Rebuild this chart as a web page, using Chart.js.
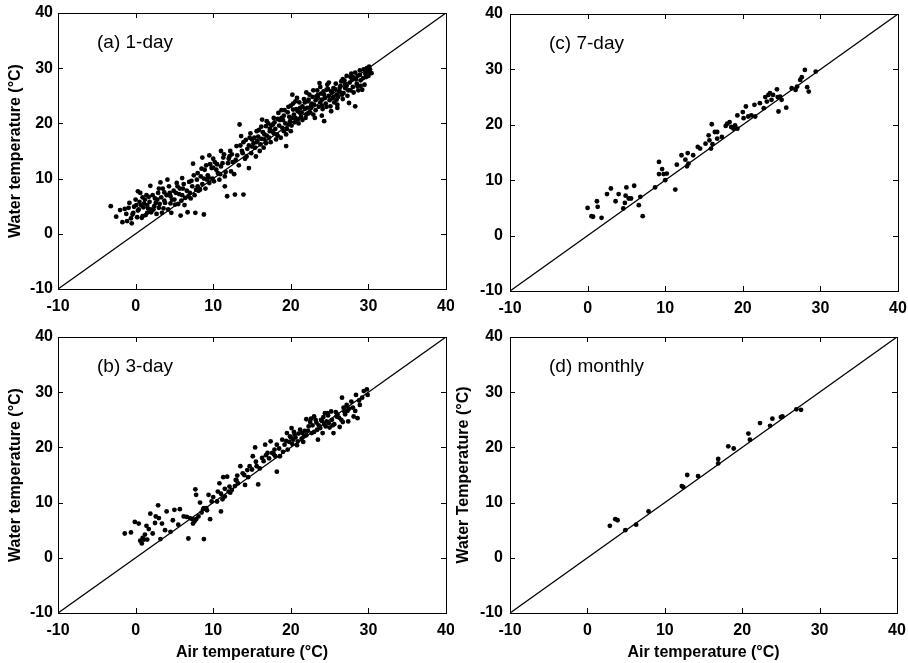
<!DOCTYPE html>
<html lang="en">
<head>
  <meta charset="UTF-8">
  <title>Water vs air temperature</title>
  <script src="https://cdn.jsdelivr.net/npm/chart.js"></script>
  <style>
    body { margin: 0; background: #fff; }
    canvas { position: absolute; }
  </style>
</head>
<body>
  <canvas id="chartA" width="454" height="320" style="left:0;top:0"></canvas>
  <canvas id="chartC" width="454" height="320" style="left:454px;top:0"></canvas>
  <canvas id="chartB" width="454" height="343" style="left:0;top:320px"></canvas>
  <canvas id="chartD" width="454" height="343" style="left:454px;top:320px"></canvas>

  <script>
    // axis range and tick labels (same on every panel)
    const axisMin = -10;
    const axisMax = 40;
    const tickValues = [-10, 0, 10, 20, 30, 40];
    const oneToOne = [[-10, -10], [40, 40]];

    // [air temperature, water temperature] pairs
    const oneDay = [
      [-3.2,5.0],[-2.5,3.1],[-2.0,4.3],[-1.7,2.1],[-1.1,2.3],[-0.5,1.9],[-0.9,4.7],[-0.3,3.8],[0.0,6.2],[0.3,7.7],
      [0.6,7.4],[0.9,3.2],[1.1,5.5],[1.5,3.8],[1.7,6.7],[1.9,8.7],[2.4,5.0],[2.8,6.2],[3.2,9.3],[3.4,3.8],
      [3.7,7.5],[4.1,9.8],[4.5,6.8],[4.6,3.8],[5.0,6.2],[5.4,8.6],[5.8,3.3],[6.0,10.1],[6.4,6.5],[6.7,3.9],
      [7.0,7.4],[7.4,12.7],[7.7,3.8],[8.0,11.0],[8.3,8.0],[8.6,13.8],[8.8,3.5],[9.2,9.8],[9.5,14.2],[9.8,11.9],
      [10.1,9.5],[10.6,11.0],[11.0,15.0],[11.2,12.8],[11.5,8.6],[11.8,6.8],[12.1,14.0],[12.3,11.3],[12.8,7.1],[13.0,15.9],
      [13.4,19.8],[13.6,17.7],[13.9,7.1],[14.3,14.0],[14.6,11.9],[15.0,17.1],[15.4,15.6],[15.6,18.6],[16.0,15.0],[16.3,20.7],
      [16.6,17.1],[16.8,19.5],[17.3,18.6],[17.7,19.8],[18.1,17.1],[18.4,21.9],[18.8,21.0],[19.1,18.6],[19.4,15.9],[19.7,19.8],
      [20.2,25.2],[20.3,22.5],[20.6,24.0],[20.9,20.7],[21.2,21.9],[21.5,23.1],[22.0,21.6],[22.3,24.3],[22.6,22.8],[23.1,21.0],
      [23.3,24.9],[23.7,27.3],[24.0,24.3],[24.3,20.4],[24.6,26.1],[25.1,23.1],[25.5,26.4],[25.9,24.3],[26.4,26.8],[26.8,25.5],
      [27.2,28.6],[27.5,23.7],[27.9,27.9],[28.3,23.1],[28.6,26.7],[28.9,28.8],[29.2,26.1],[29.7,29.4],[30.1,30.3],[30.4,29.1],
      [-1.4,4.5],[-1.2,3.6],[-0.8,5.6],[-0.6,2.8],[-0.2,4.9],[0.2,3.0],[0.4,4.4],[0.5,5.8],[0.8,2.9],[1.0,4.8],
      [1.2,6.2],[1.3,3.4],[1.6,4.6],[1.8,5.8],[2.0,3.9],[2.2,7.0],[2.3,4.4],[2.6,5.6],[2.9,7.4],[3.0,4.7],
      [3.3,6.6],[3.5,8.2],[3.8,5.6],[4.0,7.0],[4.2,4.4],[4.3,8.6],[4.7,6.2],[4.9,7.8],[5.1,5.3],[5.3,9.2],
      [5.6,7.2],[5.9,6.0],[6.1,8.2],[6.3,5.2],[6.6,7.8],[6.9,9.4],[7.1,6.4],[7.3,8.6],[7.6,7.0],[7.9,9.8],
      [8.1,7.8],[8.4,10.4],[8.6,9.0],[8.9,11.6],[9.0,8.2],[9.3,10.6],[9.6,12.6],[9.9,10.0],[10.2,13.0],[10.4,11.6],
      [10.8,9.8],[11.0,12.2],[11.3,13.8],[11.6,11.2],[11.9,12.8],[12.2,15.0],[12.5,13.0],[12.7,10.8],[13.1,14.2],[13.3,12.4],
      [13.7,15.0],[13.9,16.6],[14.1,13.6],[14.4,15.4],[14.7,17.4],[14.9,14.6],[15.2,16.4],[15.5,14.0],[15.8,17.6],[16.1,16.2],
      [16.4,18.4],[16.5,15.6],[16.9,17.8],[17.1,20.0],[17.4,16.6],[17.6,18.6],[17.9,20.2],[18.2,18.0],[18.5,19.6],[18.7,17.4],
      [19.0,20.6],[19.2,22.4],[19.5,19.0],[19.8,21.2],[20.0,23.2],[20.1,19.6],[20.4,21.6],[20.7,22.6],[21.0,20.0],[21.1,23.8],
      [21.4,22.0],[21.7,24.4],[21.9,21.0],[22.1,22.8],[22.4,25.2],[22.7,23.6],[22.9,21.6],[23.2,24.2],[23.4,26.0],[23.6,23.0],
      [23.9,25.4],[24.1,22.6],[24.4,24.6],[24.7,27.0],[24.9,25.0],[25.2,22.2],[25.4,24.6],[25.7,26.2],[26.0,23.4],[26.2,25.8],
      [26.5,27.6],[26.7,24.4],[27.0,26.4],[27.3,25.0],[27.6,27.4],[27.8,29.0],[28.1,25.6],[28.4,28.0],[28.7,26.0],[28.9,29.6],
      [29.3,28.2],[29.5,27.0],[29.8,30.0],[30.0,28.6],[30.2,29.8],
      [15.0,15.8],[15.7,16.8],[16.2,17.2],[16.8,16.4],[17.3,19.0],[17.8,18.2],[18.3,20.8],[18.9,19.2],[19.3,20.0],[19.6,22.0],
      [20.2,21.0],[20.5,20.2],[20.9,22.2],[21.3,21.2],[21.8,22.6],[22.2,24.0],[22.5,22.0],[22.8,24.8],[23.0,23.4],[23.5,24.6],
      [23.8,23.8],[24.2,25.8],[24.5,23.6],[24.8,26.2],[25.0,24.2],[25.3,25.6],[25.6,23.8],[25.9,25.2],[26.3,26.4],[26.6,25.2],
      [26.9,27.8],[27.2,26.8],[27.7,26.0],[28.0,28.4],[28.5,27.2],[29.0,27.8],[29.6,29.0],[11.5,10.4],[12.0,13.6],[10.0,12.0],
      [9.5,9.2],[8.8,10.0],[8.0,8.6],[7.5,10.6],[6.8,6.8],[6.0,7.0],[5.5,5.4],[4.5,5.5],[3.7,6.0],[3.1,5.4],
      [2.5,6.4],[1.5,5.2],[0.9,6.6],[0.1,5.2],[-0.4,3.5],
      [12.4,14.4],[12.9,13.4],[13.5,16.0],[13.8,14.6],[14.2,17.0],[14.6,16.0],[14.8,18.2],[15.3,17.4],[15.6,16.6],[15.9,18.8],
      [16.2,19.4],[16.6,18.0],[16.9,20.4],[17.2,17.4],[17.5,19.6],[17.8,21.0],[18.0,19.0],[18.3,17.8],[18.6,20.6],[18.8,22.4],
      [19.1,21.4],[19.4,18.0],[19.7,23.0],[19.9,20.4],[20.3,23.6],[20.6,21.0],[20.8,24.6],[21.2,22.8],[21.5,20.6],[21.8,23.8],
      [22.0,25.6],[22.3,21.8],[22.6,23.2],[22.9,26.0],[23.2,22.4],[23.5,25.2],[23.8,26.6],[24.0,23.2],[24.3,25.2],[24.6,23.0],
      [24.9,27.4],[25.2,25.8],[25.5,24.8],[25.8,27.2],[26.1,24.8],[26.4,25.6],[26.7,28.0],[27.0,27.2],[27.4,26.0],[27.7,28.4],
      [28.0,26.6],[28.3,29.2],[28.6,28.6],[29.0,26.8],[29.4,29.8],[29.7,28.4],[30.0,29.4],[24.0,21.4],[26.0,22.8],[20.0,18.6],
      [0.3,4.2],[0.7,5.2],[1.4,7.0],[1.9,4.4],[2.7,3.6],[3.0,8.2],[3.6,4.6],[4.4,7.4],[5.2,7.4],[5.7,8.2],
      [6.2,9.0],[7.2,9.6],[7.8,8.0],[8.5,11.8],[9.1,12.4],[9.4,10.2],[10.0,13.6],[10.5,12.6],[10.9,10.8],[11.4,14.4]
    ];

    const threeDay = [
      [-1.4,4.4],[-0.6,4.6],[-0.1,6.5],[0.4,6.2],[0.6,3.1],[0.9,3.6],[1.1,3.3],[1.2,4.2],[1.4,5.8],[1.5,3.3],
      [1.7,5.2],[1.9,8.0],[2.5,6.3],[2.6,7.5],[2.9,9.5],[3.0,7.2],[3.2,3.4],[3.4,6.2],[4.0,8.4],[4.5,4.7],
      [4.8,6.8],[5.0,8.7],[5.7,8.8],[6.2,7.5],[6.6,7.4],[6.8,3.5],[7.3,7.0],[7.4,6.2],[7.6,6.6],[7.7,12.4],
      [7.8,11.4],[8.1,7.5],[8.3,10.0],[8.5,8.2],[8.8,3.4],[8.8,9.0],[9.1,9.0],[9.4,11.4],[9.6,7.0],[9.8,10.2],
      [10.6,12.0],[10.8,13.5],[11.0,8.4],[11.2,10.6],[11.3,14.6],[11.5,11.1],[11.8,14.7],[12.1,12.9],[12.4,12.3],[12.9,14.1],
      [13.1,14.9],[13.5,16.6],[13.8,15.3],[14.1,13.2],[14.4,15.9],[14.7,16.6],[15.1,18.4],[15.4,20.0],[15.6,16.6],[15.8,13.3],
      [16.3,18.1],[16.7,20.5],[17.0,19.0],[17.4,21.1],[17.6,19.0],[17.9,19.6],[18.2,20.5],[18.2,15.6],[18.6,18.4],[18.9,21.4],
      [19.2,20.5],[19.5,22.6],[19.6,19.6],[19.9,22.0],[20.1,23.5],[20.3,21.4],[20.5,22.3],[20.9,21.1],[21.2,23.2],[21.7,22.0],
      [22.0,25.1],[22.3,23.8],[22.7,22.6],[23.0,25.6],[23.3,24.5],[23.5,21.4],[23.8,23.5],[24.1,22.6],[24.4,26.2],[24.6,24.7],
      [24.9,24.4],[25.2,26.5],[25.5,22.6],[25.9,25.6],[26.3,23.7],[26.6,29.0],[26.9,26.5],[27.2,27.7],[27.4,24.7],[27.8,28.3],
      [28.1,25.6],[28.4,29.5],[28.6,25.3],[28.9,27.7],[29.4,30.2],[29.8,30.5],[29.9,29.5],
      [19.8,21.0],[20.2,20.6],[20.6,21.8],[21.0,22.5],[21.4,21.6],[21.8,23.0],[22.5,24.6],[22.8,24.0],[23.2,25.0],[23.6,24.0],
      [24.0,24.8],[24.2,25.5],[24.8,25.8],[25.0,23.6],[25.6,24.2],[26.0,26.0],[26.5,25.0],[27.0,26.0],[27.5,27.0],[28.0,27.2],
      [17.2,18.0],[16.5,17.5],[16.0,16.2],[15.0,16.0],[14.5,14.6],[13.2,13.5],[12.8,13.0],[12.0,12.0],[11.5,12.5],[10.5,10.2],
      [10.0,11.0],[9.2,8.6],[8.7,8.8],[7.8,7.0],[7.0,7.2],[19.0,19.2],[18.5,19.8],[18.0,18.4],[21.6,21.0],[22.0,22.2],
      [23.0,22.8],[24.5,23.8],[25.3,25.0],[26.8,27.2],[28.8,28.5],[29.2,29.0],[0.8,2.6],[2.2,4.4],[3.8,5.0],[5.5,6.0],
      [19.4,21.2],[20.0,21.8],[20.4,22.8],[20.8,20.4],[21.5,22.6],[22.2,23.0],[22.6,25.2],[23.4,23.2],[23.9,25.0],[24.3,24.2],
      [24.7,26.2],[25.4,24.0],[25.8,26.4],[26.2,25.4],[26.7,24.6],[27.3,26.6],[28.3,26.6],[17.8,18.8],[16.8,18.6],[15.5,17.4],
      [14.0,15.0],[13.0,14.0],[12.2,11.8],[11.0,11.6]
    ];

    const sevenDay = [
      [0.0,5.0],[0.5,3.5],[0.7,3.4],[1.2,6.2],[1.3,5.2],[1.8,3.2],[2.5,7.5],[3.0,8.5],[3.6,6.2],[4.0,7.5],
      [4.6,4.9],[4.8,5.9],[5.0,8.7],[4.9,7.2],[5.3,6.7],[5.6,6.7],[6.0,9.0],[6.6,5.5],[6.8,7.0],[7.1,3.5],
      [8.7,8.7],[9.2,13.3],[9.2,11.1],[9.6,12.0],[9.8,11.1],[10.0,10.0],[10.2,11.2],[11.3,8.3],[11.5,12.8],[12.1,14.5],
      [12.6,13.7],[12.9,14.9],[12.8,12.5],[13.0,13.0],[13.6,14.5],[14.2,16.0],[14.5,15.7],[15.2,16.6],[15.6,18.1],[15.7,17.2],
      [15.9,15.7],[16.0,20.1],[16.1,16.5],[16.4,18.7],[16.7,18.7],[16.7,17.5],[17.3,17.8],[17.8,19.8],[18.0,20.2],[18.3,20.5],
      [18.5,19.6],[18.8,19.3],[19.0,19.9],[19.3,21.7],[19.3,19.3],[20.0,22.3],[20.1,21.2],[20.4,23.3],[20.7,21.5],[21.1,21.7],
      [21.5,23.6],[21.6,21.5],[22.2,23.9],[22.7,23.0],[22.9,25.0],[23.1,24.2],[23.3,25.4],[23.5,25.7],[23.7,24.5],[23.9,25.4],
      [24.4,26.4],[24.5,25.0],[24.6,22.4],[24.8,25.1],[25.0,24.5],[25.6,23.1],[26.3,26.6],[26.8,26.3],[27.0,26.9],[27.4,28.1],
      [27.6,28.6],[28.0,29.9],[28.3,26.8],[28.5,26.0],[29.4,29.6]
    ];

    const monthly = [
      [2.9,5.8],[3.6,7.0],[3.9,6.8],[4.9,5.0],[6.3,6.0],[7.9,8.4],[12.2,13.0],[12.4,12.8],[12.9,15.0],[14.3,14.8],
      [16.9,17.9],[16.9,17.1],[18.2,20.2],[18.9,19.8],[20.8,22.5],[21.0,21.4],[22.3,24.4],[23.6,23.9],[23.9,25.2],[25.0,25.5],
      [25.2,25.6],[27.0,26.9],[27.6,26.8]
    ];

    const fontFamily = '"Liberation Sans", Arial, Helvetica, sans-serif';
    const boldFont = { family: fontFamily, size: 16, weight: 'bold' };

    // frame, inward tick marks on all four sides, and the panel label
    const framePlugin = {
      id: 'frame',
      afterDatasetsDraw(chart, args, opts) {
        const { ctx, chartArea: a, scales: { x, y } } = chart;
        ctx.save();
        ctx.strokeStyle = '#000';
        ctx.lineWidth = 1;
        ctx.strokeRect(Math.round(a.left) + 0.5, Math.round(a.top) + 0.5,
                       Math.round(a.width), Math.round(a.height));
        ctx.beginPath();
        tickValues.forEach(v => {
          const px = Math.round(x.getPixelForValue(v)) + 0.5;
          ctx.moveTo(px, a.bottom); ctx.lineTo(px, a.bottom - 5);
          ctx.moveTo(px, a.top); ctx.lineTo(px, a.top + 5);
          const py = Math.round(y.getPixelForValue(v)) + 0.5;
          ctx.moveTo(a.left, py); ctx.lineTo(a.left + 5, py);
          ctx.moveTo(a.right, py); ctx.lineTo(a.right - 5, py);
        });
        ctx.stroke();
        ctx.fillStyle = '#000';
        ctx.font = '19px ' + fontFamily;
        ctx.textBaseline = 'alphabetic';
        ctx.fillText(opts.label, a.left + 39, a.top + 35);
        ctx.restore();
      }
    };

    function makePanel(id, label, points, cfg) {
      new Chart(document.getElementById(id), {
        type: 'scatter',
        data: {
          datasets: [
            {
              type: 'line',
              data: oneToOne.map(p => ({ x: p[0], y: p[1] })),
              borderColor: '#000',
              borderWidth: 1.3,
              pointRadius: 0,
              fill: false
            },
            {
              data: points.map(p => ({ x: p[0], y: p[1] })),
              backgroundColor: '#000',
              borderWidth: 0,
              pointRadius: 2.4
            }
          ]
        },
        plugins: [framePlugin],
        options: {
          responsive: false,
          animation: false,
          layout: { padding: { left: 0, right: cfg.padRight, top: cfg.padTop, bottom: 0 } },
          plugins: {
            legend: { display: false },
            tooltip: { enabled: false },
            frame: { label: label }
          },
          scales: {
            x: {
              type: 'linear',
              min: axisMin,
              max: axisMax,
              afterBuildTicks: s => { s.ticks = tickValues.map(v => ({ value: v })); },
              ticks: { color: '#000', font: boldFont, padding: 8, maxRotation: 0 },
              grid: { display: false, drawTicks: false },
              border: { display: false },
              title: {
                display: !!cfg.xTitle,
                text: cfg.xTitle || '',
                color: '#000',
                font: boldFont,
                padding: { top: 0, bottom: 1 }
              },
              afterFit: s => {
                s.height = cfg.xHeight;
                s.paddingLeft = 0;
                s.paddingRight = 0;
              }
            },
            y: {
              type: 'linear',
              min: axisMin,
              max: axisMax,
              afterBuildTicks: s => { s.ticks = tickValues.map(v => ({ value: v })); },
              ticks: { color: '#000', font: boldFont, padding: cfg.tickPad },
              grid: { display: false, drawTicks: false },
              border: { display: false },
              title: {
                display: !!cfg.yTitle,
                text: cfg.yTitle || '',
                color: '#000',
                font: boldFont,
                padding: { top: cfg.yTitlePad, bottom: 0 }
              },
              afterFit: s => {
                s.width = cfg.yWidth;
                s.paddingTop = 0;
                s.paddingBottom = 0;
              }
            }
          }
        }
      });
    }

    makePanel('chartA', '(a) 1-day', oneDay, {
      padRight: 8, padTop: 13, xHeight: 31, yWidth: 58, tickPad: 5, yTitlePad: 6,
      yTitle: 'Water temperature (\u00B0C)'
    });
    makePanel('chartB', '(b) 3-day', threeDay, {
      padRight: 8, padTop: 17, xHeight: 50, yWidth: 58, tickPad: 5, yTitlePad: 6,
      yTitle: 'Water temperature (\u00B0C)', xTitle: 'Air temperature (\u00B0C)'
    });
    makePanel('chartC', '(c) 7-day', sevenDay, {
      padRight: 10, padTop: 14, xHeight: 29, yWidth: 56, tickPad: 7, yTitlePad: 0
    });
    makePanel('chartD', '(d) monthly', monthly, {
      padRight: 11, padTop: 17, xHeight: 50, yWidth: 56, tickPad: 7, yTitlePad: 0,
      yTitle: 'Water Temperature (\u00B0C)', xTitle: 'Air temperature (\u00B0C)'
    });
  </script>
</body>
</html>
